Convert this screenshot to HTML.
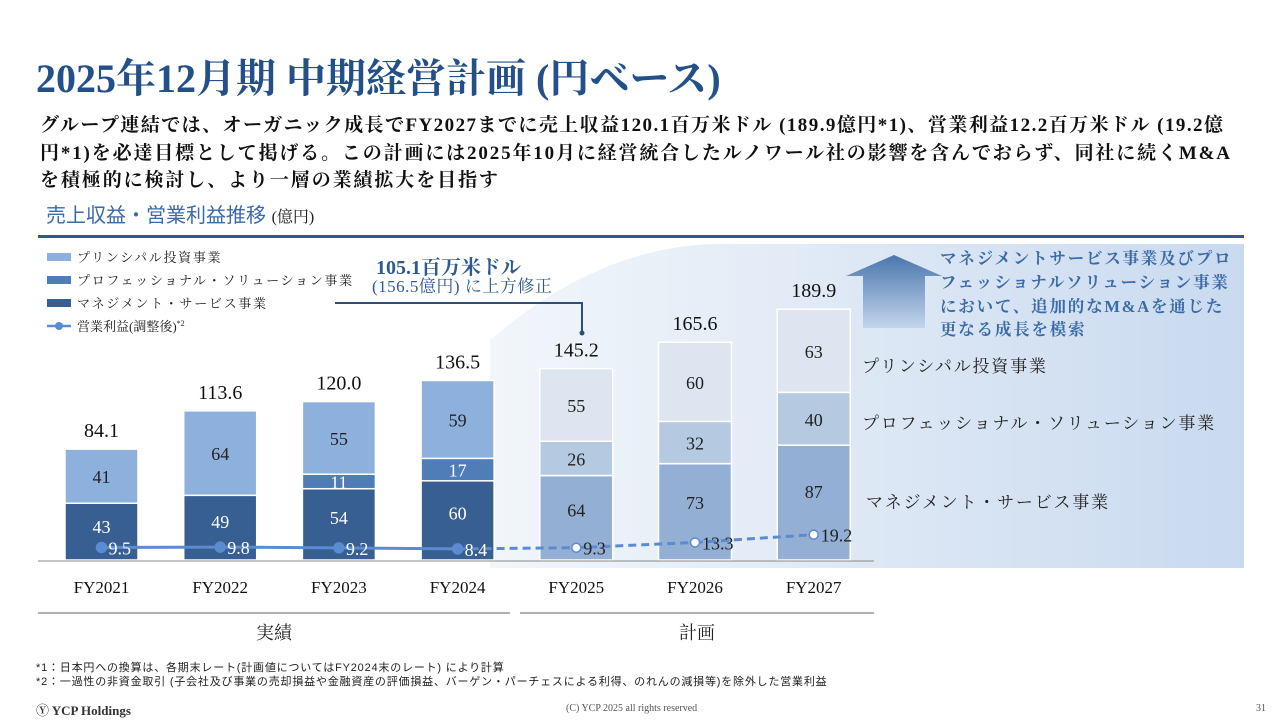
<!DOCTYPE html>
<html><head><meta charset="utf-8">
<style>
body{margin:0;width:1280px;height:720px;overflow:hidden;background:#fff;font-family:"Liberation Serif","Noto Serif CJK SC","Noto Sans CJK JP",serif;position:relative}
.abs{position:absolute;white-space:nowrap}
</style></head><body>
<div class="abs" style="left:36px;top:47px;font-size:40px;font-weight:bold;color:#24508a;letter-spacing:0px">2025年12月期 中期経営計画 (円ベース)</div>
<div class="abs" style="left:40px;top:112px;font-size:19px;font-weight:bold;line-height:27.5px;color:#111">
<div style="letter-spacing:1.45px">グループ連結では、オーガニック成長でFY2027までに売上収益120.1百万米ドル (189.9億円*1)、営業利益12.2百万米ドル (19.2億</div>
<div style="letter-spacing:1.85px">円*1)を必達目標として掲げる。この計画には2025年10月に経営統合したルノワール社の影響を含んでおらず、同社に続くM&amp;A</div>
<div style="letter-spacing:1.9px">を積極的に検討し、より一層の業績拡大を目指す</div></div>
<div class="abs" style="left:46px;top:199px;font-size:20px;color:#3a6aa8;font-family:'Liberation Sans','Noto Sans CJK JP',sans-serif">売上収益・営業利益推移 <span style="color:#222;font-size:16px;font-family:'Liberation Serif','Noto Serif CJK SC',serif">(億円)</span></div>
<div class="abs" style="left:38px;top:235px;width:1206px;height:3px;background:#2d5a92"></div>

<svg id="chart" width="1280" height="720" style="position:absolute;left:0;top:0">
<defs>
<linearGradient id="bg" x1="0" y1="0" x2="1" y2="0"><stop offset="0" stop-color="#f2f6fb"/><stop offset="1" stop-color="#c9daef"/></linearGradient>
<linearGradient id="arr" x1="0" y1="0" x2="0" y2="1"><stop offset="0" stop-color="#4a76ad"/><stop offset="1" stop-color="#c3d5ec"/></linearGradient>
</defs>
<path d="M490 568 L490 340 Q600 245 720 244 L1244 244 L1244 568 Z" fill="url(#bg)"/>
<path d="M863 328 L863 276 L846 276 L894 255 L942 276 L925 276 L925 328 Z" fill="url(#arr)"/>
<g id="marks"></g>
<g font-family="Liberation Serif,Noto Serif CJK SC,serif">
<rect x="47" y="253" width="24" height="8" fill="#8eb0dd"/>
<text x="77" y="262" font-size="13" letter-spacing="1.7" fill="#222">プリンシパル投資事業</text>
<rect x="47" y="276" width="24" height="8" fill="#4f7db8"/>
<text x="77" y="285" font-size="13" letter-spacing="1.7" fill="#222">プロフェッショナル・ソリューション事業</text>
<rect x="47" y="299" width="24" height="8" fill="#375f92"/>
<text x="77" y="308" font-size="13" letter-spacing="1.7" fill="#222">マネジメント・サービス事業</text>
<line x1="47" y1="326" x2="71" y2="326" stroke="#5b8bd0" stroke-width="2.5"/>
<circle cx="59" cy="326" r="4" fill="#5b8bd0"/>
<text x="77" y="331" font-size="13" fill="#222">営業利益(調整後)<tspan font-size="8" dy="-5">*2</tspan></text>
<text x="376" y="274" font-size="20" font-weight="bold" fill="#2d5a92">105.1百万米ドル</text>
<text x="372" y="292" font-size="17" letter-spacing="0.5" fill="#2d5a92">(156.5億円) に上方修正</text>
<path d="M335 303 L582 303 L582 332" stroke="#2d4e78" stroke-width="2" fill="none"/>
<circle cx="582" cy="333" r="2.5" fill="#2d4e78"/>
<text font-size="16.5" letter-spacing="1.8" font-weight="bold" fill="#3a6aa8"><tspan x="940" y="264">マネジメントサービス事業及びプロ</tspan><tspan x="940" y="288">フェッショナルソリューション事業</tspan><tspan x="940" y="312">において、追加的なM&amp;Aを通じた</tspan><tspan x="940" y="335">更なる成長を模索</tspan></text>
<text x="862" y="372" font-size="17" letter-spacing="1.8" fill="#222">プリンシパル投資事業</text>
<text x="862" y="429" font-size="17" letter-spacing="1.8" fill="#222">プロフェッショナル・ソリューション事業</text>
<text x="866" y="508" font-size="17" letter-spacing="1.8" fill="#222">マネジメント・サービス事業</text>
<line x1="38" y1="561" x2="874" y2="561" stroke="#888" stroke-width="1"/>
<line x1="38" y1="613" x2="510" y2="613" stroke="#666"/>
<line x1="520" y1="613" x2="874" y2="613" stroke="#666"/>
<text x="274" y="639" font-size="18" text-anchor="middle" fill="#222">実績</text>
<text x="697" y="639" font-size="18" text-anchor="middle" fill="#222">計画</text>
</g>
</svg>

<div class="abs" style="left:36px;top:661px;font-size:11px;letter-spacing:0.8px;line-height:14px;color:#222;font-family:'Liberation Sans','Noto Sans CJK JP',sans-serif">
<div>*1：日本円への換算は、各期末レート(計画値についてはFY2024末のレート) により計算</div>
<div>*2：一過性の非資金取引 (子会社及び事業の売却損益や金融資産の評価損益、バーゲン・パーチェスによる利得、のれんの減損等)を除外した営業利益</div></div>
<div class="abs" style="left:36px;top:700px;font-size:13px;font-weight:bold;color:#333">Ⓨ YCP Holdings</div>
<div class="abs" style="left:566px;top:703px;font-size:10px;color:#555">(C) YCP 2025 all rights reserved</div>
<div class="abs" style="left:1256px;top:703px;font-size:10px;color:#555">31</div>

<script>
const categories=["FY2021","FY2022","FY2023","FY2024","FY2025","FY2026","FY2027"];
const management=[43,49,54,60,64,73,87];
const professional=[0,0,11,17,26,32,40];
const principal=[41,64,55,59,55,60,63];
const totals=["84.1","113.6","120.0","136.5","145.2","165.6","189.9"];
const opProfit=[9.5,9.8,9.2,8.4,9.3,13.3,19.2];
const isPlan=[false,false,false,false,true,true,true];
const NS="http://www.w3.org/2000/svg";
const base=560, k=1.32, x0=101.5, step=118.7, bw=73;
const X=i=>x0+i*step, Y=v=>base-v*k;
const g=document.getElementById('marks');
function mk(t,a){const e=document.createElementNS(NS,t);for(const n in a)e.setAttribute(n,a[n]);g.appendChild(e);return e;}
function txt(x,y,s,size,fill){const e=mk('text',{x:x,y:y,'text-anchor':'middle','font-size':size,fill:fill,'font-family':'Liberation Serif,serif'});e.textContent=s;return e;}
const colA=["#375f92","#4f7db8","#8eb0dd"], colP=["#93afd3","#b5c9e0","#dce5f0"];
const segNames=["management","professional","principal"];
categories.forEach((c,i)=>{
  const vals=[management[i],professional[i],principal[i]];
  let cum=0;
  vals.forEach((v,j)=>{
    if(v<=0)return;
    const r=mk('rect',{x:X(i)-bw/2,y:Y(cum+v),width:bw,height:v*k,fill:(isPlan[i]?colP:colA)[j],stroke:'#fff','stroke-width':1.5});
    
    
    const dark=!isPlan[i]&&j<2;
    const ly=j==0?Y(cum+v*0.6)+7:Y(cum+v/2)+7;
    const t=txt(X(i),ly,String(v),18,dark?'#fff':'#222');
    
    
    cum+=v;
  });
  const tt=txt(X(i),Y(cum)-12,totals[i],20,'#111');
  
  
  const xl=txt(X(i),593,c,17,'#111');
  
  
});
for(let i=0;i<opProfit.length-1;i++){
  const l=mk('line',{x1:X(i),y1:Y(opProfit[i]),x2:X(i+1),y2:Y(opProfit[i+1]),stroke:'#5b8bd0','stroke-width':3});
  if(isPlan[i+1]&&i>=3)l.setAttribute('stroke-dasharray','8,5');
  
  
}
opProfit.forEach((v,i)=>{
  const p=mk('circle',{cx:X(i),cy:Y(v),r:isPlan[i]?4.5:5,fill:isPlan[i]?'#fff':'#5b8bd0',stroke:'#5b8bd0','stroke-width':1.5});
  
  
  const t=mk('text',{x:X(i)+7,y:Y(v)+7,'font-size':18,fill:isPlan[i]?'#222':'#fff','font-family':'Liberation Serif,serif'});
  t.textContent=v.toFixed(1);
  
  
});
</script>
</body></html>
